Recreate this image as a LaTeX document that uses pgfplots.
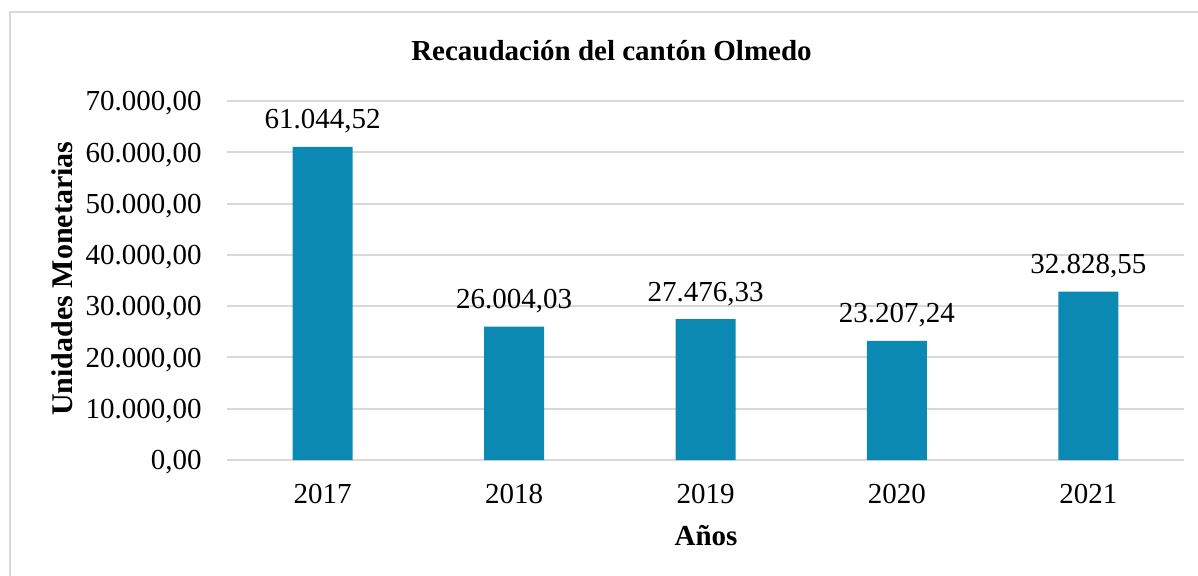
\documentclass[border=0pt]{standalone}
\usepackage{pgfplots}
\pgfplotsset{compat=1.18}
\usepackage{fontspec}
\setmainfont{Liberation Serif}
\definecolor{barblue}{RGB}{11,137,178}
\definecolor{gridgray}{RGB}{217,217,217}
\newcommand{\fs}{\fontsize{21.75}{26}\selectfont}
\begin{document}
\begin{tikzpicture}
\useasboundingbox (0,0) rectangle (898.5pt,-431.25pt);
\draw[gridgray, line width=1.5pt] (7.5pt,-9pt) rectangle (910pt,-440pt);
\begin{axis}[
 at={(170.25pt,-345pt)}, anchor=south west,
 scale only axis, width=717.75pt, height=269.25pt,
 xmin=-0.5, xmax=4.5, ymin=0, ymax=70000,
 axis line style={draw=none},
 major tick length=0pt,
 xtick={0,...,4}, xticklabels={2017,2018,2019,2020,2021},
 ytick={0,10000,20000,30000,40000,50000,60000,70000},
 yticklabels={{0,00},{10.000,00},{20.000,00},{30.000,00},{40.000,00},{50.000,00},{60.000,00},{70.000,00}},
 ymajorgrids, grid style={gridgray, line width=1.5pt},
 ticklabel style={font=\fs, inner sep=0pt},
 yticklabel style={anchor=base east, xshift=-18.75pt, yshift=-7.3pt},
 xticklabel style={anchor=base, yshift=-32.25pt},
 ybar, bar width=45pt,
 nodes near coords, point meta=explicit symbolic,
 nodes near coords style={font=\fs, anchor=base, inner sep=0pt, yshift=13.5pt},
 scaled y ticks=false,
]
\addplot[fill=barblue, draw=none] table[x=x, y=y, meta=label] {
x y label
0 61044.52 61.044,52
1 26004.03 26.004,03
2 27476.33 27.476,33
3 23207.24 23.207,24
4 32828.55 32.828,55
};
\end{axis}
\node[font=\bfseries\fs, anchor=base] at (458.6pt,-45pt) {Recaudación del cantón Olmedo};
\node[font=\bfseries\fs, anchor=base] at (529.5pt,-408.75pt) {Años};
\node[font=\bfseries\fontsize{22.5}{27}\selectfont, anchor=base, rotate=90] at (54pt,-209pt) {Unidades Monetarias};
\end{tikzpicture}
\end{document}
